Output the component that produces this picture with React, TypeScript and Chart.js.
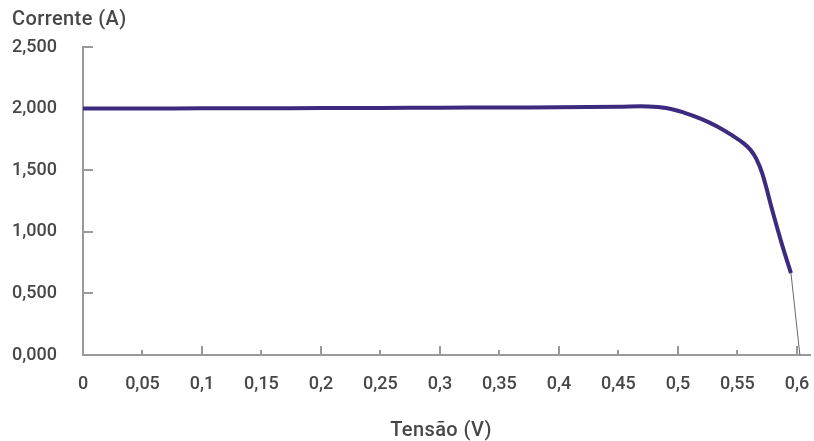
import React, { useEffect, useRef } from "react";
import { Chart, registerables } from "chart.js";

Chart.register(...registerables);

// Voltage (V) and current (A) of the I-V curve
const voltage = [0, 0.05, 0.1, 0.15, 0.2, 0.25, 0.3, 0.35, 0.4, 0.45, 0.475, 0.49, 0.505, 0.52, 0.533, 0.546, 0.555, 0.561, 0.566, 0.571, 0.58, 0.588, 0.595];
const current = [2000, 2001, 2002, 2003, 2004, 2005, 2007, 2009, 2011, 2016, 2018, 2005, 1968, 1915, 1855, 1780, 1720, 1665, 1590, 1470, 1150, 880, 665];

// thin tail down to open-circuit voltage
const tailVoltage = [0.595, 0.6025];
const tailCurrent = [665, 0];

const xTickValues = [0, 0.05, 0.1, 0.15, 0.2, 0.25, 0.3, 0.35, 0.4, 0.45, 0.5, 0.55, 0.6];
const xTickLabels = ["0", "0,05", "0,1", "0,15", "0,2", "0,25", "0,3", "0,35", "0,4", "0,45", "0,5", "0,55", "0,6"];
const yTickValues = [0, 500, 1000, 1500, 2000, 2500];
const yTickLabels = ["0,000", "0,500", "1,000", "1,500", "2,000", "2,500"];

const yTitle = "Corrente (A)";
const xTitle = "Tensão (V)";

const FONT = "Roboto, 'DejaVu Sans', sans-serif";
const TEXT = "#474747";
const AXIS = "#9a9a9a";

export default function App() {
  const ref = useRef<HTMLCanvasElement | null>(null);

  useEffect(() => {
    if (!ref.current) return;

    const tickPlugin = {
      id: "innerTicks",
      beforeDatasetsDraw(chart: any) {
        const ctx = chart.ctx;
        const xs = chart.scales.x;
        const ys = chart.scales.y;
        ctx.save();
        ctx.strokeStyle = AXIS;
        ctx.lineWidth = 2;
        ctx.beginPath();
        yTickValues.forEach((v) => {
          if (v === 0) return;
          const py = Math.round(ys.getPixelForValue(v));
          ctx.moveTo(xs.left, py);
          ctx.lineTo(xs.left + 10, py);
        });
        xTickValues.forEach((v, i) => {
          if (i === 0) return;
          const px = Math.round(xs.getPixelForValue(v));
          const len = i % 2 === 0 ? 9 : 5;
          ctx.moveTo(px, ys.bottom);
          ctx.lineTo(px, ys.bottom - len);
        });
        ctx.stroke();
        ctx.restore();
      },
      afterDraw(chart: any) {
        const ctx = chart.ctx;
        ctx.save();
        ctx.fillStyle = TEXT;
        ctx.font = `500 20px ${FONT}`;
        try { (ctx as any).letterSpacing = "0.4px"; } catch (e) {}
        ctx.textBaseline = "middle";
        ctx.textAlign = "left";
        ctx.fillText(yTitle, 12, 20);
        ctx.textAlign = "center";
        ctx.fillText(xTitle, 441, 431);
        ctx.restore();
      },
    };

    const chart = new Chart(ref.current, {
      type: "line",
      data: {
        datasets: [
          {
            data: voltage.map((v, i) => ({ x: v, y: current[i] })),
            borderColor: "#3c2a7e",
            borderWidth: 4,
            pointRadius: 0,
            tension: 0.4,
            fill: false,
          },
          {
            data: tailVoltage.map((v, i) => ({ x: v, y: tailCurrent[i] })),
            borderColor: "#6a6a6a",
            borderWidth: 1,
            pointRadius: 0,
            fill: false,
          },
        ],
      },
      options: {
        animation: false,
        responsive: false,
        maintainAspectRatio: false,
        layout: { padding: { top: 47, right: 4, left: 0, bottom: 0 } },
        plugins: { legend: { display: false }, tooltip: { enabled: false }, title: { display: false } },
        scales: {
          x: {
            type: "linear",
            min: 0,
            max: 0.611,
            afterBuildTicks: (scale: any) => {
              scale.ticks = xTickValues.map((v) => ({ value: v }));
            },
            afterFit: (scale: any) => {
              scale.height = 86;
              scale.paddingLeft = 0;
              scale.paddingRight = 0;
            },
            grid: { display: false, drawTicks: false },
            border: { display: true, color: AXIS, width: 2 },
            ticks: {
              padding: 19,
              color: TEXT,
              font: { family: FONT, size: 18, weight: "500" },
              maxRotation: 0,
              autoSkip: false,
              callback: (value: any) => {
                const i = xTickValues.findIndex((t) => Math.abs(t - Number(value)) < 1e-6);
                return i >= 0 ? xTickLabels[i] : "";
              },
            },
          },
          y: {
            type: "linear",
            min: 0,
            max: 2500,
            afterBuildTicks: (scale: any) => {
              scale.ticks = yTickValues.map((v) => ({ value: v }));
            },
            afterFit: (scale: any) => {
              scale.width = 83;
              scale.paddingTop = 0;
              scale.paddingBottom = 0;
            },
            grid: { display: false, drawTicks: false },
            border: { display: true, color: AXIS, width: 2 },
            ticks: {
              padding: 26,
              color: TEXT,
              font: { family: FONT, size: 18, weight: "500" },
              autoSkip: false,
              callback: (value: any) => {
                const i = yTickValues.indexOf(Number(value));
                return i >= 0 ? yTickLabels[i] : "";
              },
            },
          },
        },
      },
      plugins: [tickPlugin],
    } as any);

    return () => chart.destroy();
  }, []);

  return (
    <div style={{ position: "fixed", left: 0, top: 0, width: 814, height: 441, background: "#fff" }}>
      <canvas ref={ref} width={814} height={441} style={{ width: 814, height: 441, display: "block" }} />
    </div>
  );
}
